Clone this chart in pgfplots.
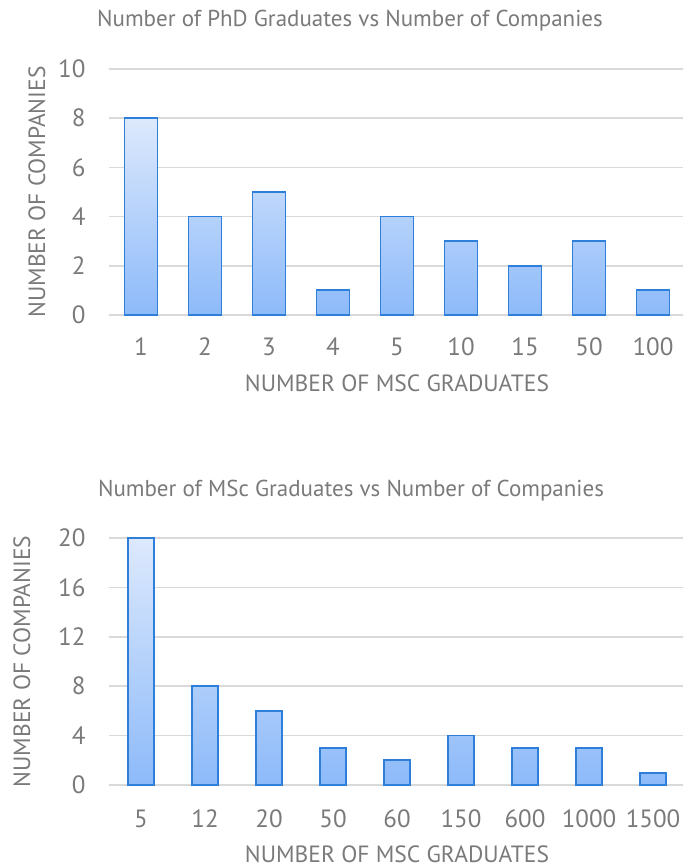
\documentclass[border=0pt]{standalone}
\usepackage{pgfplots}
\pgfplotsset{compat=1.18}
\usepackage{fontspec}
\setmainfont{PT Sans}

\definecolor{txtgray}{HTML}{7A7A7A}
\definecolor{gridgray}{HTML}{D9D9D9}
\definecolor{baredge}{HTML}{2E7FD9}
\definecolor{bartop}{HTML}{DDE9FC}
\definecolor{barbot}{HTML}{8DBAFA}

\pgfplotstableread{
x n
0 8
1 4
2 5
3 1
4 4
5 3
6 2
7 3
8 1
}\phdtable

\pgfplotstableread{
x n
0 20
1 8
2 6
3 3
4 2
5 4
6 3
7 3
8 1
}\msctable

\pgfplotsset{
  gradchart/.style={
    scale only axis,
    width=576bp,
    height=246bp,
    xmin=-0.5, xmax=8.5,
    ymin=0,
    xtick=data,
    axis line style={draw=none},
    tick style={draw=none},
    ymajorgrids,
    grid style={gridgray, line width=1.6bp},
    tick label style={font=\fontsize{25bp}{27bp}\selectfont, text=txtgray},
    /pgf/number format/assume math mode=true,
    yticklabel style={xshift=-20bp},
    xticklabel style={anchor=base},
    label style={font=\fontsize{23.5bp}{26bp}\selectfont, text=txtgray},
    title style={font=\fontsize{23bp}{26bp}\selectfont, text=txtgray, anchor=base},
    ylabel={NUMBER OF COMPANIES},
    xlabel={NUMBER OF MSC GRADUATES},
    xlabel style={at={(rel axis cs:0.5,0)}, anchor=base},
    ylabel style={at={(rel axis cs:0,0.5)}, anchor=base},
    title style={at={(rel axis cs:0.5,1)}},
    clip=false,
  },
  gradbar/.style={
    ybar, draw=baredge, line width=1.8bp,
    top color=bartop, bottom color=barbot,
  },
}

\begin{document}
\begin{tikzpicture}
\useasboundingbox (0,0) rectangle (683bp,867bp);

% PhD graduates
\begin{axis}[gradchart,
  at={(109bp,552bp)}, anchor=south west,
  ymax=10, ytick={0,2,...,10},
  xticklabels={1,2,3,4,5,10,15,50,100},
  xticklabel style={yshift=-41bp},
  title={Number of PhD Graduates vs Number of Companies},
  title style={xshift=-47bp, yshift=37bp},
  xlabel style={yshift=-77bp},
  ylabel style={yshift=64bp},
]
\addplot[gradbar, bar width=33bp] table[x=x, y=n] {\phdtable};
\end{axis}

% MSc graduates
\begin{axis}[gradchart,
  at={(109bp,82bp)}, anchor=south west,
  height=247bp,
  ymax=20, ytick={0,4,...,20},
  xticklabels={5,12,20,50,60,150,600,1000,1500},
  xticklabel style={yshift=-42bp},
  title={Number of MSc Graduates vs Number of Companies},
  title style={xshift=-46bp, yshift=36bp},
  xlabel style={yshift=-77bp},
  ylabel style={yshift=79bp},
]
\addplot[gradbar, bar width=26bp] table[x=x, y=n] {\msctable};
\end{axis}
\end{tikzpicture}
\end{document}
